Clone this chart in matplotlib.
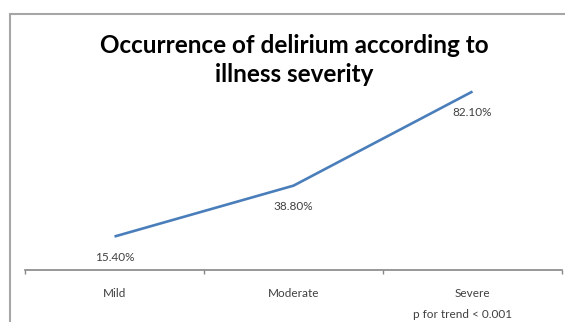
import matplotlib
matplotlib.use("Agg")
import matplotlib.pyplot as plt
from matplotlib.patches import Rectangle

# --- data ---
categories = ["Mild", "Moderate", "Severe"]
delirium_pct = [15.4, 38.8, 82.1]
value_labels = ["15.40%", "38.80%", "82.10%"]
title = "Occurrence of delirium according to\nillness severity"
note = "p for trend < 0.001"

plt.rcParams['font.family'] = ['Lato', 'DejaVu Sans']

fig = plt.figure(figsize=(5.65, 3.22), dpi=100)
ax = fig.add_axes([25 / 565, 1 - 270 / 322, (562 - 25) / 565, 217.4 / 322])

x = list(range(len(categories)))
ax.plot(x, delirium_pct, color="#4a7ebb", lw=1.9, solid_capstyle="butt")

# labels under each point
for xi, yi, lab in zip(x, delirium_pct, value_labels):
    ax.annotate(lab, (xi, yi), xytext=(0, -15), textcoords="offset points",
                ha="center", va="center", fontsize=8.5, color="#404040")

ax.set_xlim(-0.5, 2.5)
ax.set_ylim(0, 100)
ax.set_xticks([-0.5, 0.5, 1.5, 2.5])
ax.set_xticklabels([])
ax.set_xticks(x, minor=True)
ax.set_xticklabels(categories, minor=True)
ax.tick_params(axis="x", which="major", direction="out", length=3, width=1, color="#868686")
ax.tick_params(axis="x", which="minor", length=0, pad=13, labelsize=8.5, labelcolor="#404040")
ax.set_yticks([])
for s in ["left", "right", "top"]:
    ax.spines[s].set_visible(False)
ax.spines["bottom"].set_color("#868686")
ax.spines["bottom"].set_linewidth(1.2)

fig.text(294 / 565, 1 - 60 / 322, title, ha="center", va="center",
         fontsize=17.5, fontweight="bold", linespacing=1.3, color="black")
fig.text(463 / 565, 1 - 314 / 322, note, ha="center", va="center",
         fontsize=8.5, color="#404040")

# chart frame (cut by the image edge)
fig.patches.append(Rectangle((10 / 565, -0.2), 1.0, 1 - 14 / 322 + 0.2,
                             transform=fig.transFigure, fill=False,
                             edgecolor="#a6a6a6", lw=1.5, clip_on=False))

fig.savefig("out.png", dpi=100)
